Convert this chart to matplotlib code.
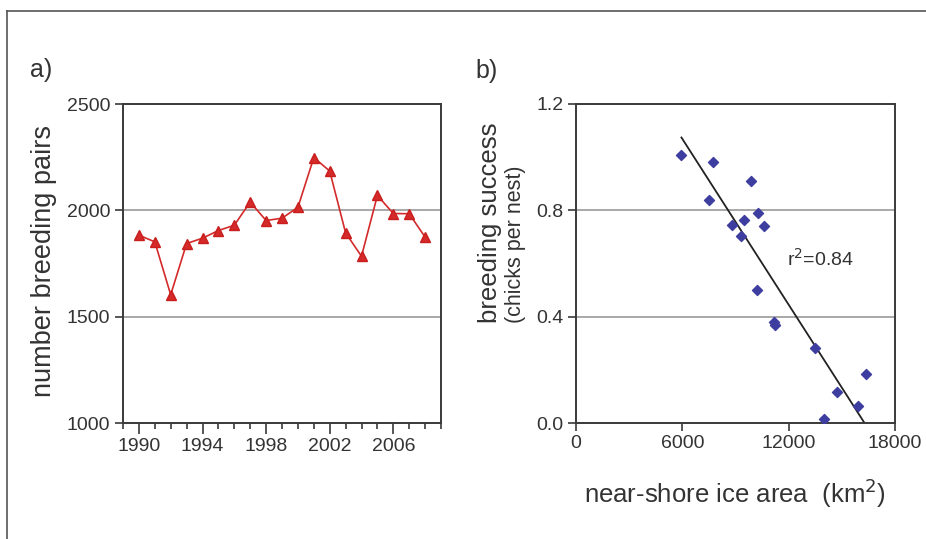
import numpy as np
import matplotlib
matplotlib.use('Agg')
from matplotlib import pyplot as plt
from matplotlib.lines import Line2D
from matplotlib.ticker import MultipleLocator, FormatStrFormatter

# a) breeding pairs per year
years = list(range(1990, 2009))
pairs = [1883, 1852, 1603, 1844, 1869, 1905, 1930, 2039, 1952, 1963,
         2014, 2248, 2185, 1894, 1784, 2070, 1985, 1984, 1874]

# b) breeding success vs near-shore ice area
ice_area = [5910, 7720, 7520, 9880, 10260, 9460, 8800, 10580, 9290, 10200,
            11150, 11210, 13500, 14700, 16340, 15920, 13980]
success = [1.01, 0.98, 0.84, 0.91, 0.79, 0.763, 0.743, 0.74, 0.703, 0.50,
           0.38, 0.37, 0.281, 0.117, 0.183, 0.064, 0.016]
fit_x = [5950, 16280]
fit_y = [1.074, 0.0]
r2_text = 'r$^2$=0.84'

txt = '#333333'
plt.rcParams['font.family'] = ['Liberation Sans', 'DejaVu Sans']
plt.rcParams['text.color'] = txt
plt.rcParams['axes.edgecolor'] = '#3a3a3a'
plt.rcParams['xtick.color'] = '#3a3a3a'
plt.rcParams['ytick.color'] = '#3a3a3a'
plt.rcParams['xtick.labelcolor'] = txt
plt.rcParams['ytick.labelcolor'] = txt

fig = plt.figure(figsize=(9.26, 5.39), dpi=100, facecolor='w')
W, H = 926.0, 539.0

# frame of the panel
fig.add_artist(Line2D([7 / W, 1], [1 - 11 / H, 1 - 11 / H], color='#555555', lw=1.2))
fig.add_artist(Line2D([7 / W, 7 / W], [0, 1 - 11 / H], color='#555555', lw=1.2))

ax1 = fig.add_axes([123 / W, 1 - 423 / H, 318 / W, 319 / H])
ax2 = fig.add_axes([576 / W, 1 - 423 / H, 319 / W, 319 / H])

for ax in (ax1, ax2):
    for s in ax.spines.values():
        s.set_linewidth(1.4)
    ax.grid(axis='y', color='#a8a8a8', lw=1.4)
    ax.set_axisbelow(True)
    ax.tick_params(which='major', length=6, width=1.2, labelsize=14, pad=3)
    ax.tick_params(which='minor', length=4, width=1.2)

# panel a
ax1.plot(years, pairs, '-^', color='#d42a2a', lw=1.2, ms=7, mec='#c81e1e')
ax1.set_xlim(1989, 2009)
ax1.set_ylim(1000, 2500)
ax1.set_xticks([1990, 1994, 1998, 2002, 2006])
ax1.xaxis.set_minor_locator(MultipleLocator(1))
ax1.set_yticks([1000, 1500, 2000, 2500])
ax1.tick_params(axis='x', which='major', length=8)

# panel b
ax2.scatter(ice_area, success, marker='D', s=26, color='#3e3ea0', zorder=3)
ax2.plot(fit_x, fit_y, color='#222222', lw=1.3)
ax2.set_xlim(0, 18000)
ax2.set_ylim(0, 1.2)
ax2.set_xticks([0, 6000, 12000, 18000])
ax2.set_yticks([0.0, 0.4, 0.8, 1.2])
ax2.yaxis.set_major_formatter(FormatStrFormatter('%.1f'))
ax2.text(11900, 0.617, r2_text, fontsize=14, va='center', ha='left')

# labels
fig.text(30 / W, 1 - 70 / H, 'a)', fontsize=18, va='center', ha='left')
fig.text(475 / W, 1 - 71 / H, 'b)', fontsize=18, va='center', ha='left')
fig.text(44 / W, 1 - 261 / H, 'number breeding pairs', fontsize=19.5,
         rotation=90, va='center', ha='center')
fig.text(490 / W, 1 - 323 / H, 'breeding success', fontsize=18.5,
         rotation=90, va='bottom', ha='center')
fig.text(515 / W, 1 - 323 / H, '(chicks per nest)', fontsize=15.5,
         rotation=90, va='bottom', ha='center')
fig.text(735 / W, 1 - 493 / H, 'near-shore ice area  (km$^2$)', fontsize=18.5,
         va='center', ha='center')

plt.savefig('out.png', dpi=100, facecolor='w')
